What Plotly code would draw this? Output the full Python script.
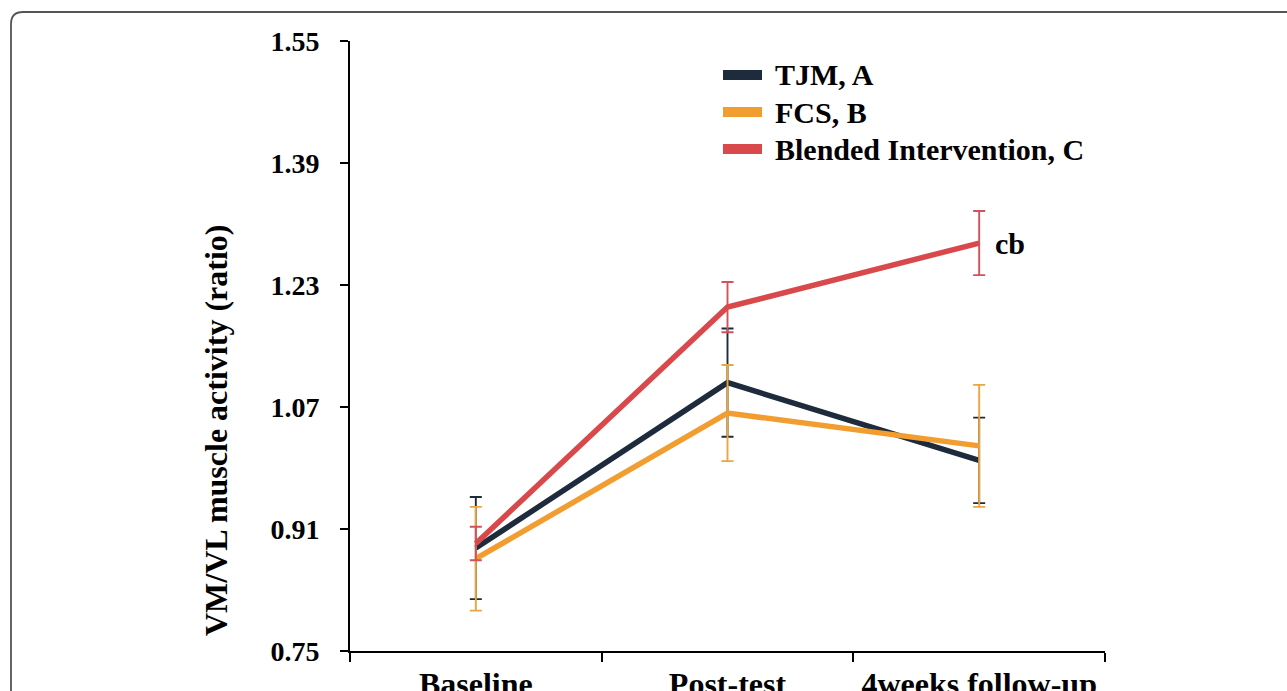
import plotly.graph_objects as go

# Measurement occasions
phases = ["Baseline", "Post-test", "4weeks follow-up"]

# Group means and standard deviations of the VM/VL ratio
tjm_mean = [0.885, 1.102, 1.000]
tjm_sd = [0.067, 0.071, 0.056]

fcs_mean = [0.871, 1.062, 1.019]
fcs_sd = [0.068, 0.063, 0.080]

blend_mean = [0.891, 1.201, 1.285]
blend_sd = [0.022, 0.033, 0.042]

group_names = ["TJM, A", "FCS, B", "Blended Intervention, C"]
line_colors = ["#1d2b3c", "#f29d30", "#d9494b"]
bar_colors = ["#1d2b3c", "#eaa640", "#d2515a"]

y_ticks = [0.75, 0.91, 1.07, 1.23, 1.39, 1.55]
sig_label = "cb"

W, H = 1287, 691
L, R, T, B = 350, 1105, 41, 651
FONT = "Liberation Serif, Times New Roman, serif"


def px(x):
    return (x - L) / (R - L)


def py(y):
    return (B - y) / (B - T)


fig = go.Figure()

series = [(tjm_mean, tjm_sd), (fcs_mean, fcs_sd), (blend_mean, blend_sd)]
for (means, sds), name, lc, bc in zip(series, group_names, line_colors, bar_colors):
    fig.add_trace(go.Scatter(
        x=phases, y=means, name=name, mode="lines",
        line=dict(color=lc, width=5.5),
        error_y=dict(type="data", array=sds, visible=True,
                     color=bc, thickness=1.9, width=6),
        showlegend=False,
    ))

# Significance letter next to the blended group's follow-up mean
fig.add_annotation(x=phases[2], y=blend_mean[2], text=f"<b>{sig_label}</b>",
                   xref="x", yref="y", showarrow=False, xanchor="left",
                   xshift=14, font=dict(family=FONT, size=30, color="black"))

# Legend: colour swatches with bold labels
legend_rows = [75, 112, 149]
for name, lc, yc in zip(group_names, line_colors, legend_rows):
    fig.add_shape(type="rect", xref="paper", yref="paper",
                  x0=px(723), x1=px(762), y0=py(yc + 5), y1=py(yc - 5),
                  fillcolor=lc, line=dict(width=0))
    fig.add_annotation(x=px(773), y=py(yc), xref="paper", yref="paper",
                       text=f"<b>{name}</b>", showarrow=False,
                       xanchor="left", yanchor="middle",
                       font=dict(family=FONT, size=30, color="black"))

# Y-axis title
fig.add_annotation(x=px(216), y=py(431), xref="paper", yref="paper",
                   text="<b>VM/VL muscle activity (ratio)</b>", textangle=-90,
                   showarrow=False, xanchor="center", yanchor="middle",
                   font=dict(family=FONT, size=32, color="black"))

# Rounded frame around the figure
fx0, fy0, rr = 11, 12, 12
fx1, fy1 = 1320, 720
frame_path = (
    f"M {px(fx0)} {py(fy1)} L {px(fx0)} {py(fy0 + rr)} "
    f"Q {px(fx0)} {py(fy0)} {px(fx0 + rr)} {py(fy0)} "
    f"L {px(fx1)} {py(fy0)}"
)
fig.add_shape(type="path", xref="paper", yref="paper", path=frame_path,
              line=dict(color="#555555", width=1.8), layer="above")

fig.update_layout(
    width=W, height=H,
    margin=dict(l=L, r=W - R, t=T, b=H - B, autoexpand=False),
    paper_bgcolor="white", plot_bgcolor="white",
    font=dict(family=FONT, color="black"),
)

fig.update_xaxes(
    type="category", range=[-0.5, 2.5], automargin=False,
    showline=True, linecolor="black", linewidth=2,
    ticks="outside", tickson="boundaries", ticklen=9, tickwidth=2,
    tickcolor="black", showgrid=False, zeroline=False,
    tickfont=dict(family=FONT, size=32, color="black"),
    tickprefix="<b>", ticksuffix="</b>", ticklabelstandoff=4,
)

fig.update_yaxes(
    range=[0.75, 1.55], tickvals=y_ticks, automargin=False,
    ticktext=[f"<b>{v:.2f}</b>" for v in y_ticks],
    showline=True, linecolor="black", linewidth=2,
    ticks="outside", ticklen=8, tickwidth=2, tickcolor="black",
    showgrid=False, zeroline=False, ticklabelstandoff=15,
    tickfont=dict(family=FONT, size=28, color="black"),
)

fig.write_html("out.html")
